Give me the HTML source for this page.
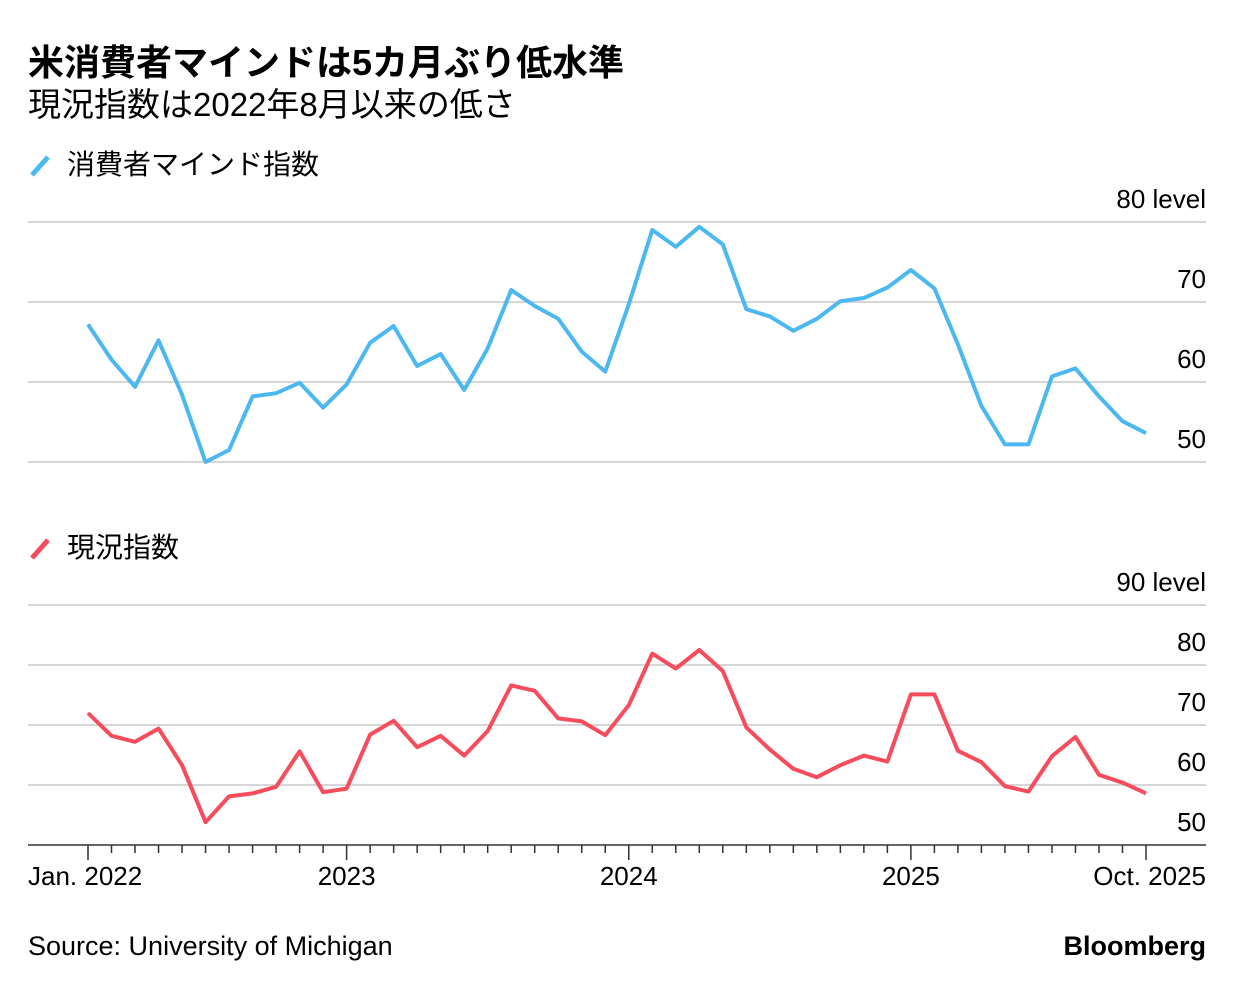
<!DOCTYPE html>
<html><head><meta charset="utf-8"><style>
body{margin:0;background:#fff;width:1235px;height:988px;overflow:hidden;font-family:"Liberation Sans","Noto Sans CJK JP",sans-serif;color:#000}
svg text{font-family:"Liberation Sans","Noto Sans CJK JP",sans-serif}
</style></head><body>
<svg id="chart" width="1235" height="988" xmlns="http://www.w3.org/2000/svg">
<text x="28" y="75" font-size="36" font-weight="bold">米消費者マインドは5カ月ぶり低水準</text>
<text x="28" y="116" font-size="33">現況指数は2022年8月以来の低さ</text>
<g><line x1="32" y1="175" x2="48" y2="157" stroke="#4cb8f2" stroke-width="5"/><text x="67" y="174" font-size="28">消費者マインド指数</text></g>
<g><line x1="32" y1="558" x2="48" y2="540" stroke="#f64c5c" stroke-width="5"/><text x="67" y="557" font-size="28">現況指数</text></g>
<g id="g"></g>
<text x="28" y="955" font-size="27">Source: University of Michigan</text>
<text x="1206" y="955" font-size="27" font-weight="bold" text-anchor="end">Bloomberg</text>
</svg>
<script>
const sentiment=[67.2,62.8,59.4,65.2,58.4,50.0,51.5,58.2,58.6,59.9,56.8,59.7,64.9,67.0,62.0,63.5,59.0,64.2,71.5,69.5,67.9,63.8,61.3,69.7,79.0,76.9,79.4,77.2,69.1,68.2,66.4,67.9,70.1,70.5,71.8,74.0,71.7,64.7,57.0,52.2,52.2,60.7,61.7,58.2,55.1,53.6];
const current=[72.0,68.2,67.2,69.4,63.3,53.8,58.1,58.6,59.7,65.6,58.8,59.4,68.4,70.7,66.3,68.2,64.9,69.0,76.6,75.7,71.1,70.6,68.3,73.3,81.9,79.4,82.5,79.0,69.6,65.9,62.7,61.3,63.3,64.9,63.9,75.1,75.1,65.7,63.8,59.8,58.9,64.8,68.0,61.7,60.4,58.6];
const topTicks=[50,60,70,80];
const botTicks=[50,60,70,80,90];
const xLabels=[[0,"Jan. 2022"],[11,"2023"],[23,"2024"],[35,"2025"],[45,"Oct. 2025"]];
const NS="http://www.w3.org/2000/svg",g=document.getElementById('g');
const x=i=>88+i*(1146-88)/45;
const yT=v=>462-(v-50)*8;
const yB=v=>845-(v-50)*6;
function mk(t,a,p){const e=document.createElementNS(NS,t);for(const k in a)e.setAttribute(k,a[k]);(p||g).appendChild(e);return e;}
topTicks.forEach(v=>{
 const l=mk('line',{x1:28,x2:1206,y1:yT(v),y2:yT(v),stroke:'#c8c8c8','stroke-width':1.5});
 
 
 const t=mk('text',{x:1206,y:yT(v)-14,'font-size':26,'text-anchor':'end'});t.textContent=v==80?'80 level':v;
 
 
});
botTicks.forEach(v=>{
 const l=mk('line',{x1:28,x2:1206,y1:yB(v),y2:yB(v),stroke:v==50?'#333':'#c8c8c8','stroke-width':1.5});
 
 
 const t=mk('text',{x:1206,y:yB(v)-14,'font-size':26,'text-anchor':'end'});t.textContent=v==90?'90 level':v;
 
 
});
const majors=xLabels.map(d=>d[0]);
for(let i=0;i<=45;i++){
 const major=majors.includes(i);
 const l=mk('line',{x1:x(i),x2:x(i),y1:845,y2:major?860:853,stroke:'#333','stroke-width':1.5});
 
 
}
xLabels.forEach(([i,s])=>{
 const anchor=i==0?'start':i==45?'end':'middle';
 const t=mk('text',{x:i==0?28:i==45?1206:x(i),y:885,'font-size':26,'text-anchor':anchor});t.textContent=s;
 
 
});
const p1=mk('polyline',{points:sentiment.map((v,i)=>x(i)+','+yT(v)).join(' '),fill:'none',stroke:'#4cb8f2','stroke-width':4,'stroke-linejoin':'round'});


const p2=mk('polyline',{points:current.map((v,i)=>x(i)+','+yB(v)).join(' '),fill:'none',stroke:'#f64c5c','stroke-width':4,'stroke-linejoin':'round'});


</script>
</body></html>
